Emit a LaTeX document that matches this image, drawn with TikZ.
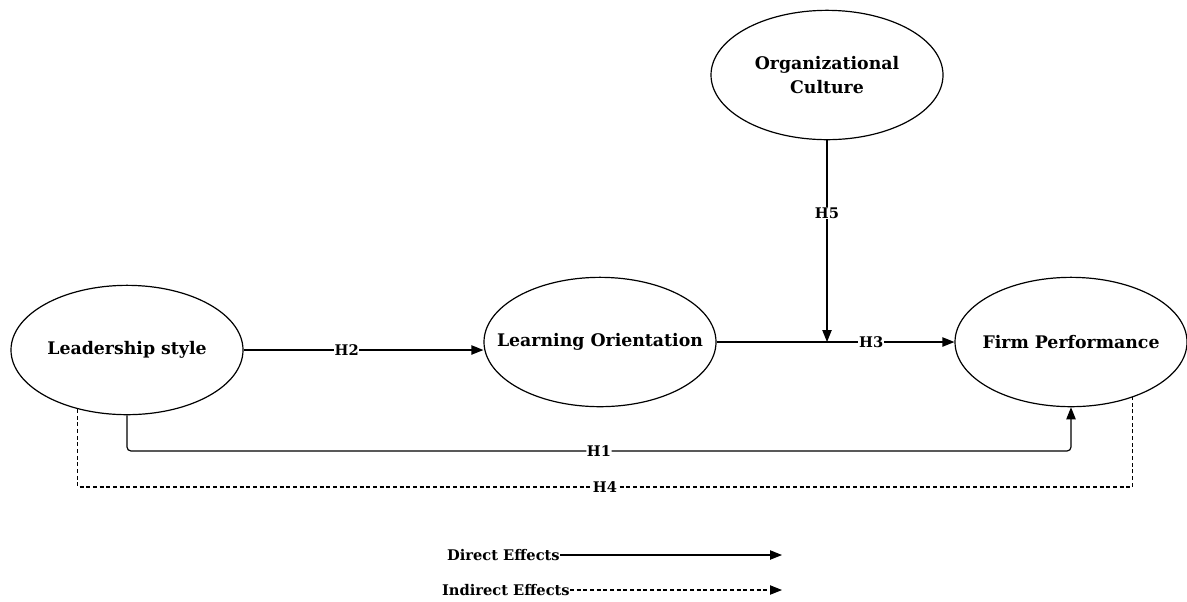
\documentclass[tikz,border=0pt]{standalone}
\usepackage{fontspec}
\setmainfont{DejaVu Serif}
\usetikzlibrary{shapes.geometric}
\usetikzlibrary{arrows.meta}

\tikzset{
  construct/.style={ellipse, draw, line width=0.9pt, minimum width=174pt, minimum height=97pt, inner xsep=-16pt, inner ysep=0pt, align=center, font=\fontsize{13}{17.5}\selectfont\bfseries},
  direct/.style={line width=0.9pt, -{Triangle[length=9pt,width=7pt]}},
  indirect/.style={line width=0.8pt, dash pattern=on 3pt off 2pt},
  hyp/.style={fill=white, inner sep=0.5pt, font=\fontsize{11}{13}\selectfont\bfseries},
  legendtext/.style={anchor=east, inner sep=0pt, font=\fontsize{11}{13}\selectfont\bfseries}
}

\begin{document}
\begin{tikzpicture}[x=0.75pt,y=0.75pt,yscale=-1]
\useasboundingbox (0,0) rectangle (1187,601);

%Shape: Ellipse
\node [construct] (ls) at (127,350) {Leadership style};
%Shape: Ellipse
\node [construct] (lo) at (600,342) {Learning Orientation};
%Shape: Ellipse
\node [construct] (fp) at (1071,342) {Firm Performance};
%Shape: Ellipse
\node [construct] (oc) at (827,75) {Organizational\\Culture};

\coordinate (mod) at (oc.south |- lo.east);
\coordinate (h1l) at (ls.south |- 0,451);
\coordinate (h4l) at (ls.230 |- 0,487);

%Straight Lines
\draw [direct] (ls.east) -- node [hyp, pos=0.43] {H2} (ls.east -| lo.west);
%Straight Lines
\draw [direct] (lo.east) -- node [hyp, pos=0.65] {H3} (fp.west);
%Straight Lines
\draw [direct] (oc.south) -- node [hyp, pos=0.36] {H5} (mod);
%Straight Lines
\draw [direct, rounded corners=3pt] (ls.south) -- (h1l) -| node [hyp, pos=0.25] {H1} (fp.south);
%Straight Lines
\draw [indirect] (ls.230) -- (h4l) -| node [hyp, pos=0.25] {H4} (fp.318);

% Legend
\node [legendtext] (de) at (560,555) {Direct Effects};
\node [legendtext] (ie) at (570,590) {Indirect Effects};
\coordinate (de_end) at (782,555);
\coordinate (ie_end) at (782,590);
\draw [direct] (de.east) -- (de_end);
\draw [indirect, -{Triangle[length=9pt,width=7pt]}] (ie.east) -- (ie_end);

\end{tikzpicture}
\end{document}
